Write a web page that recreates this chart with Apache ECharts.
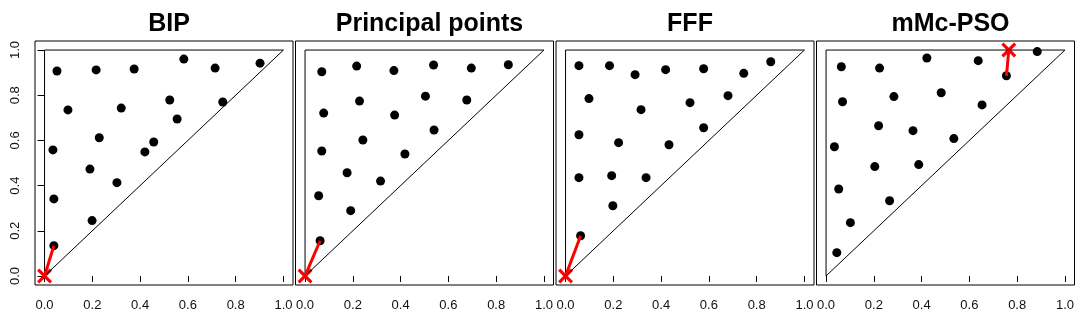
<!DOCTYPE html>
<html>
<head>
<meta charset="utf-8">
<script src="https://cdn.jsdelivr.net/npm/echarts@6/dist/echarts.min.js"></script>
<style>
  html, body { margin: 0; padding: 0; background: #fff; }
  #main { width: 1082px; height: 324px; }
</style>
</head>
<body>
<div id="main"></div>
<script>
// panel titles
const titles = ['BIP', 'Principal points', 'FFF', 'mMc-PSO']

// tick labels (both axes)
const tickValues = [0, 0.2, 0.4, 0.6, 0.8, 1.0]

// design points
const bipX = [0.052, 0.216, 0.375, 0.583, 0.714, 0.902, 0.524, 0.746, 0.098, 0.321, 0.555, 0.229, 0.035, 0.457, 0.420, 0.190, 0.303, 0.039, 0.199, 0.039]
const bipY = [0.907, 0.912, 0.916, 0.960, 0.920, 0.942, 0.779, 0.770, 0.735, 0.743, 0.695, 0.612, 0.558, 0.593, 0.549, 0.473, 0.413, 0.341, 0.245, 0.134]

const ppX = [0.070, 0.216, 0.372, 0.538, 0.696, 0.851, 0.228, 0.504, 0.677, 0.078, 0.375, 0.242, 0.540, 0.070, 0.418, 0.176, 0.316, 0.057, 0.191, 0.063]
const ppY = [0.904, 0.929, 0.909, 0.934, 0.920, 0.935, 0.774, 0.796, 0.779, 0.721, 0.712, 0.602, 0.646, 0.553, 0.540, 0.457, 0.420, 0.355, 0.289, 0.156]

const fffX = [0.056, 0.184, 0.291, 0.419, 0.578, 0.746, 0.859, 0.098, 0.316, 0.521, 0.680, 0.578, 0.056, 0.222, 0.433, 0.056, 0.193, 0.337, 0.198, 0.063]
const fffY = [0.931, 0.931, 0.891, 0.913, 0.917, 0.897, 0.948, 0.785, 0.736, 0.767, 0.798, 0.656, 0.625, 0.590, 0.581, 0.435, 0.444, 0.435, 0.311, 0.178]

const psoX = [0.064, 0.224, 0.422, 0.637, 0.755, 0.884, 0.069, 0.284, 0.482, 0.653, 0.220, 0.364, 0.535, 0.035, 0.204, 0.388, 0.053, 0.266, 0.102, 0.045]
const psoY = [0.926, 0.920, 0.965, 0.953, 0.886, 0.993, 0.771, 0.794, 0.811, 0.757, 0.665, 0.643, 0.608, 0.572, 0.484, 0.493, 0.385, 0.333, 0.236, 0.103]

// red cross (x, y) per panel and the index of the point it is linked to
const crossX = [0, 0, 0, 0.765]
const crossY = [0, 0, 0, 1.0]
const linkIndex = [19, 19, 19, 4]

// region outline: x = 0, y = 1 and the diagonal
const triangleX = [0, 0, 1, 0]
const triangleY = [0, 1, 1, 0]

const panelX = [bipX, ppX, fffX, psoX]
const panelY = [bipY, ppY, fffY, psoY]

const boxLeft = [35, 295.5, 556, 816.5]
const boxWidth = 258
const boxTop = 41
const boxHeight = 244

const crossSymbol = 'path://M0,1.5L1.5,0L5,3.5L8.5,0L10,1.5L6.5,5L10,8.5L8.5,10L5,6.5L1.5,10L0,8.5L3.5,5Z'
const labelFont = 'Liberation Sans, Arial, sans-serif'

const grid = []
const xAxis = []
const yAxis = []
const series = []
const title = []

for (let i = 0; i < 4; i++) {
  grid.push({
    left: boxLeft[i], top: boxTop, width: boxWidth, height: boxHeight,
    show: true, borderColor: '#000', borderWidth: 1, backgroundColor: 'transparent'
  })
  xAxis.push({
    gridIndex: i, type: 'value', min: -0.04, max: 1.04,
    splitLine: { show: false },
    axisLine: { show: false },
    axisTick: { show: true, customValues: tickValues, length: 6, lineStyle: { color: '#000' } },
    axisLabel: {
      show: true, customValues: tickValues, margin: 14,
      color: '#111', fontSize: 13, fontFamily: labelFont,
      formatter: v => v.toFixed(1)
    }
  })
  yAxis.push({
    gridIndex: i, type: 'value', min: -0.04, max: 1.04,
    splitLine: { show: false },
    axisLine: { show: false },
    axisTick: { show: i === 0, customValues: tickValues, length: 7, lineStyle: { color: '#000' } },
    axisLabel: {
      show: i === 0, customValues: tickValues, rotate: 90, margin: 13,
      color: '#111', fontSize: 13, fontFamily: labelFont,
      formatter: v => v.toFixed(1)
    }
  })
  title.push({
    text: titles[i],
    left: boxLeft[i] + boxWidth / 2, top: 7, textAlign: 'center',
    textStyle: { fontSize: 25, fontWeight: 'bold', color: '#000', fontFamily: labelFont }
  })

  // triangle outline
  series.push({
    type: 'line', xAxisIndex: i, yAxisIndex: i,
    data: triangleX.map((x, k) => [x, triangleY[k]]),
    symbol: 'none', silent: true, animation: false,
    lineStyle: { color: '#000', width: 1 }
  })
  // points
  series.push({
    type: 'scatter', xAxisIndex: i, yAxisIndex: i,
    data: panelX[i].map((x, k) => [x, panelY[i][k]]),
    symbol: 'circle', symbolSize: 9, animation: false,
    itemStyle: { color: '#000', opacity: 1 }
  })
  // red link from the cross to its point
  const j = linkIndex[i]
  series.push({
    type: 'line', xAxisIndex: i, yAxisIndex: i,
    data: [[crossX[i], crossY[i]], [panelX[i][j], panelY[i][j]]],
    symbol: 'none', animation: false,
    lineStyle: { color: '#ff0000', width: 3 }
  })
  // red cross
  series.push({
    type: 'scatter', xAxisIndex: i, yAxisIndex: i,
    data: [[crossX[i], crossY[i]]],
    symbol: crossSymbol, symbolSize: 15, animation: false,
    itemStyle: { color: '#ff0000', opacity: 1 }
  })
}

const myChart = echarts.init(document.getElementById('main'), null, { renderer: 'canvas' })
myChart.setOption({
  animation: false,
  backgroundColor: '#fff',
  title, grid, xAxis, yAxis, series
})
</script>
</body>
</html>
